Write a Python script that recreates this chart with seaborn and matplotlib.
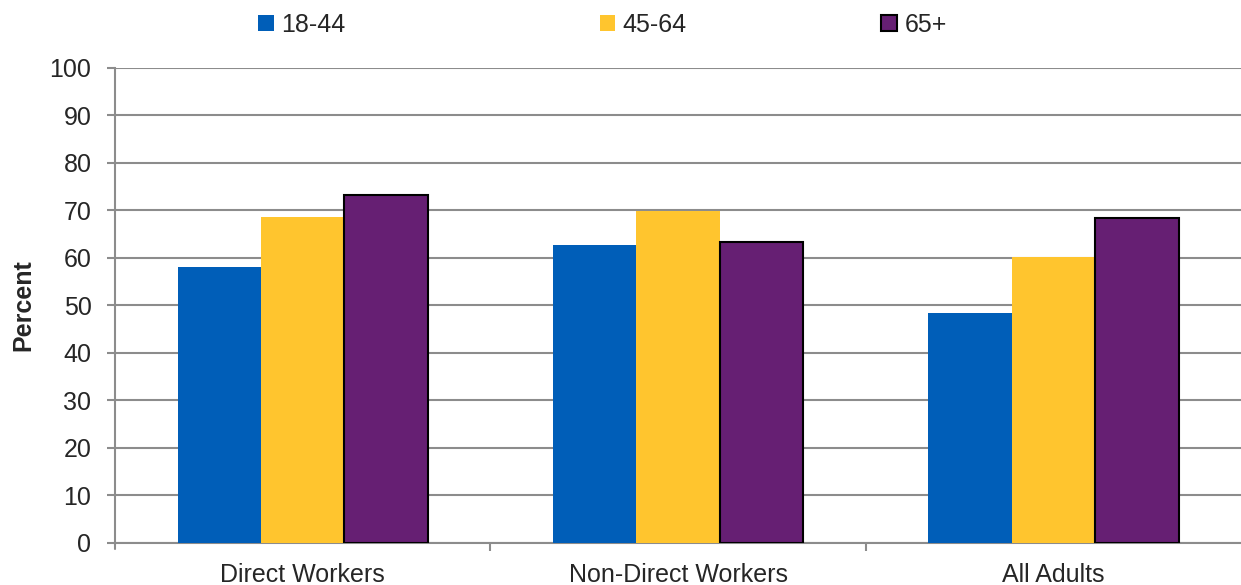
import pandas as pd
import seaborn as sns
import matplotlib.pyplot as plt
from matplotlib.patches import Patch

# data
groups = ['Direct Workers', 'Non-Direct Workers', 'All Adults']
ages = ['18-44', '45-64', '65+']
val_18_44 = [58.0, 62.7, 48.4]
val_45_64 = [68.6, 69.9, 60.2]
val_65 = [73.3, 63.4, 68.4]
colors = ['#005EB8', '#FFC52E', '#661F73']

rows = []
for age, vals in zip(ages, [val_18_44, val_45_64, val_65]):
    for g, v in zip(groups, vals):
        rows.append({'group': g, 'age': age, 'value': v})
df = pd.DataFrame(rows)

sns.set_style('white')
plt.rcParams['font.family'] = ['Liberation Sans', 'DejaVu Sans']

fig = plt.figure(figsize=(12.41, 5.85), dpi=100)
ax = fig.add_axes([0.0927, 0.0718, 0.9073, 0.812])

sns.barplot(data=df, x='group', y='value', hue='age', order=groups,
            hue_order=ages, palette=colors, width=0.667, gap=0,
            saturation=1, legend=False, ax=ax, zorder=3)

# purple bars have a black outline
for bar in ax.containers[2]:
    bar.set_edgecolor('black')
    bar.set_linewidth(1.5)
for c in ax.containers[:2]:
    for bar in c:
        bar.set_linewidth(0)

ax.set_ylim(0, 100)
ax.set_xlim(-0.5, 2.5)
ax.set_yticks(range(0, 101, 10))
ax.yaxis.grid(True, color='#8c8c8c', linewidth=1.5, zorder=0)
ax.set_axisbelow(True)

for s in ['top', 'right']:
    ax.spines[s].set_visible(False)
for s in ['left', 'bottom']:
    ax.spines[s].set_color('#8c8c8c')
    ax.spines[s].set_linewidth(1.5)

ax.tick_params(axis='y', which='major', length=6, width=1.5, color='#8c8c8c',
               labelsize=18, pad=11, direction='out', left=True)
ax.tick_params(axis='x', which='major', length=0, labelsize=18, pad=14.5)
ax.set_xticks([0.5, 1.5], minor=True)
ax.set_xticks([0, 1, 2])
ax.set_xticklabels(groups)
ax.tick_params(axis='x', which='minor', length=6, width=1.5,
               color='#8c8c8c', direction='out', bottom=True)
# left boundary tick
ax.plot([-0.5, -0.5], [0, -1.3], color='#8c8c8c', lw=1.5, clip_on=False)

ax.set_xlabel('')
ax.set_ylabel('Percent', fontsize=18, fontweight='bold', labelpad=10)

# one legend entry per slot, placed like the original
legend_x = [0.192, 0.467, 0.694]
for i, (c, lab) in enumerate(zip(colors, ages)):
    h = Patch(facecolor=c, edgecolor='black' if i == 2 else c,
              linewidth=1.5 if i == 2 else 0)
    fig.legend([h], [lab], loc='upper left', bbox_to_anchor=(legend_x[i], 1.012),
               frameon=False, fontsize=18, handlelength=0.62,
               handleheight=0.62, handletextpad=0.3, borderpad=0.3)

fig.savefig('out.png', dpi=100)
